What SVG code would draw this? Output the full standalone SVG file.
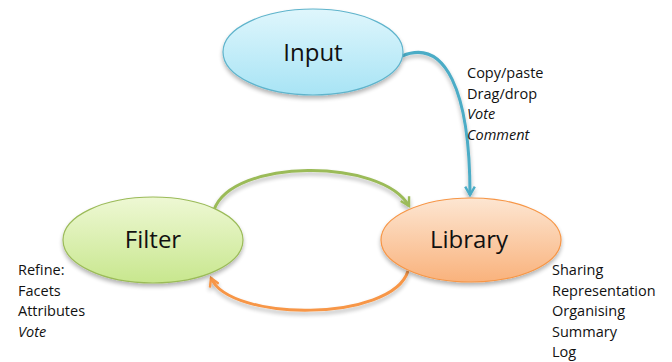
<svg xmlns="http://www.w3.org/2000/svg" width="672" height="362" viewBox="0 0 672 362">
<style>
.lbl{font-family:"Open Sans","Liberation Sans",sans-serif;font-size:24px;fill:#111;text-anchor:middle}
.note{font-family:"Open Sans","Liberation Sans",sans-serif;font-size:14.5px;fill:#111}
.it{font-style:italic}
.conn{fill:none;stroke-width:3}
</style>
<defs>
<linearGradient id="gb" x1="0" y1="0" x2="0" y2="1"><stop offset="0" stop-color="#dff6fc"/><stop offset="1" stop-color="#a8e4f5"/></linearGradient>
<linearGradient id="gg" x1="0" y1="0" x2="0" y2="1"><stop offset="0" stop-color="#eef8d4"/><stop offset="1" stop-color="#c8e78e"/></linearGradient>
<linearGradient id="go" x1="0" y1="0" x2="0" y2="1"><stop offset="0" stop-color="#fde6d2"/><stop offset="1" stop-color="#f9b27c"/></linearGradient>
<filter id="sh" x="-20%" y="-20%" width="140%" height="150%"><feGaussianBlur in="SourceAlpha" stdDeviation="2"/><feOffset dx="0" dy="3"/><feComponentTransfer><feFuncA type="linear" slope="0.3"/></feComponentTransfer><feMerge><feMergeNode/><feMergeNode in="SourceGraphic"/></feMerge></filter>
<marker id="ab" viewBox="0 0 10 10" refX="8" refY="5" markerWidth="4" markerHeight="4" orient="auto" markerUnits="strokeWidth"><path d="M1,1 L8,5 L1,9" fill="none" stroke="#4bacc6" stroke-width="2"/></marker>
<marker id="ag" viewBox="0 0 10 10" refX="8" refY="5" markerWidth="4" markerHeight="4" orient="auto" markerUnits="strokeWidth"><path d="M1,1 L8,5 L1,9" fill="none" stroke="#9bbb59" stroke-width="2"/></marker>
<marker id="ao" viewBox="0 0 10 10" refX="8" refY="5" markerWidth="4" markerHeight="4" orient="auto" markerUnits="strokeWidth"><path d="M1,1 L8,5 L1,9" fill="none" stroke="#f79646" stroke-width="2"/></marker>
</defs>
<g id="connectors" filter="url(#sh)">
<path class="conn" stroke="#4bacc6" d="M402,56 C445,38 470,90 470,195" marker-end="url(#ab)"/>
<path class="conn" stroke="#9bbb59" d="M214,210 C232,158 382,158 409,206" marker-end="url(#ag)"/>
<path class="conn" stroke="#f79646" d="M408,271 C392,322 230,322 211,278" marker-end="url(#ao)"/>
</g>
<g id="input">
<ellipse cx="313" cy="52" rx="90" ry="43" fill="url(#gb)" stroke="#5fb4cc" stroke-width="1.2" filter="url(#sh)"/>
<text class="lbl" x="313" y="61">Input</text>
</g>
<g id="filter">
<ellipse cx="153" cy="240" rx="90" ry="43" fill="url(#gg)" stroke="#9bbb59" stroke-width="1.2" filter="url(#sh)"/>
<text class="lbl" x="153" y="248">Filter</text>
</g>
<g id="library">
<ellipse cx="471" cy="240" rx="90" ry="42" fill="url(#go)" stroke="#f79646" stroke-width="1.2" filter="url(#sh)"/>
<text class="lbl" x="469" y="248">Library</text>
</g>
<g id="notes">
<text class="note" x="467" y="78">Copy/paste</text>
<text class="note" x="467" y="98.5">Drag/drop</text>
<text class="note it" x="467" y="119">Vote</text>
<text class="note it" x="467" y="139.5">Comment</text>
<text class="note" x="18" y="275">Refine:</text>
<text class="note" x="18" y="295.5">Facets</text>
<text class="note" x="18" y="316">Attributes</text>
<text class="note it" x="18" y="337">Vote</text>
<text class="note" x="552" y="275">Sharing</text>
<text class="note" x="552" y="295.5">Representation</text>
<text class="note" x="552" y="316">Organising</text>
<text class="note" x="552" y="337">Summary</text>
<text class="note" x="552" y="357">Log</text>
</g>
</svg>
